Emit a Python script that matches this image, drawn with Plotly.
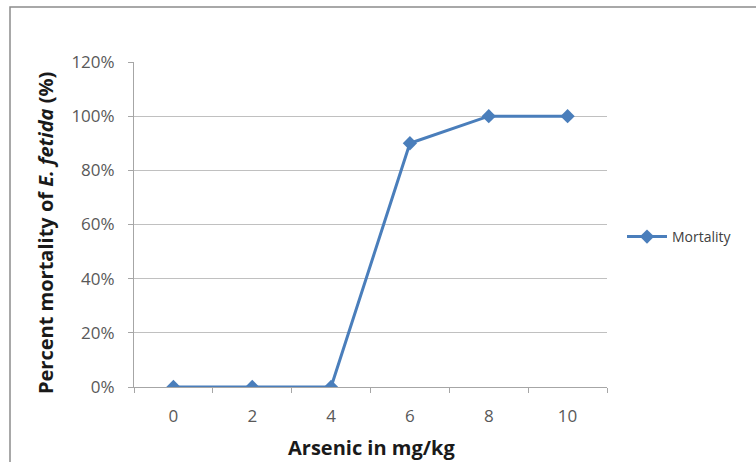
import plotly.graph_objects as go

doses = ["0", "2", "4", "6", "8", "10"]
mortality = [0.0, 0.0, 0.0, 0.90, 1.00, 1.00]
series_name = "Mortality"
y_ticks = [0, 0.2, 0.4, 0.6, 0.8, 1.0, 1.2]
x_title = "<b>Arsenic in mg/kg</b>"
y_title = "<b>Percent mortality of <i>E. fetida</i> (%)</b>"

W, H = 756, 462
L, R, T, B = 134, 149, 62, 75
pw, ph = W - L - R, H - T - B

def px_x(p):
    return (p - L) / pw

def px_y(p):
    return (H - B - p) / ph

FONT = "'Open Sans', Lato, sans-serif"

fig = go.Figure()
fig.add_trace(go.Scatter(
    x=doses, y=mortality, name=series_name, mode="lines+markers",
    line=dict(color="#4a7ebb", width=3),
    marker=dict(symbol="diamond", size=11, color="#4a7ebb"),
))

fig.update_layout(
    width=W, height=H,
    margin=dict(l=L, r=R, t=T, b=B),
    paper_bgcolor="white", plot_bgcolor="white",
    font=dict(family=FONT, color="#595959", size=15),
    showlegend=True,
    legend=dict(x=px_x(622), y=px_y(237), xanchor="left", yanchor="middle",
                font=dict(size=14, color="#404040"), bgcolor="rgba(0,0,0,0)",
                itemwidth=40),
    xaxis=dict(
        type="category", range=[-0.5, 5.5], tickson="boundaries",
        ticks="outside", ticklen=5, tickcolor="#a6a6a6",
        showline=True, linecolor="#a6a6a6", linewidth=1,
        showgrid=False, tickfont=dict(size=17, color="#595959"),
        ticklabelstandoff=14,
    ),
    yaxis=dict(
        range=[0, 1.2], tickvals=y_ticks, tickformat=".0%",
        ticks="outside", ticklen=5, tickcolor="#a6a6a6",
        showline=True, linecolor="#a6a6a6", linewidth=1,
        showgrid=True, gridcolor="#c0c0c0", gridwidth=1,
        zeroline=False, tickfont=dict(size=17, color="#595959"),
        ticklabelstandoff=10,
    ),
    annotations=[
        dict(text=x_title, xref="paper", yref="paper", x=px_x(371), y=px_y(447),
             xanchor="center", yanchor="middle", showarrow=False,
             font=dict(size=20, color="#1a1a1a", family=FONT)),
        dict(text=y_title, xref="paper", yref="paper", x=px_x(45), y=px_y(233),
             xanchor="center", yanchor="middle", showarrow=False, textangle=-90,
             font=dict(size=20, color="#1a1a1a", family=FONT)),
    ],
    shapes=[dict(type="rect", xref="paper", yref="paper",
                 x0=px_x(10), x1=px_x(770), y0=px_y(480), y1=px_y(7),
                 line=dict(color="#8c8c8c", width=1.5), layer="below")],
)

fig.write_html("out.html")
